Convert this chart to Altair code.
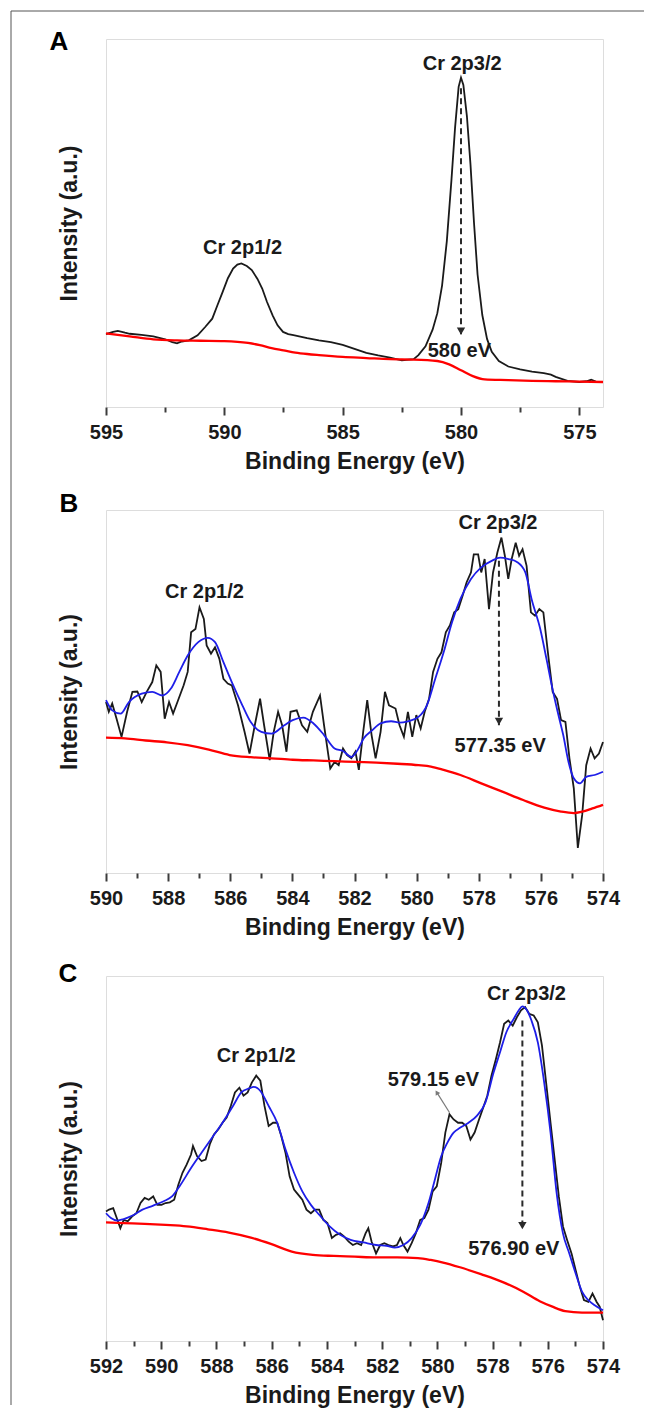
import altair as alt
import pandas as pd

FONT = "Liberation Sans"
INK = "#1a1a1a"
FRAME = "#3c3c3c"
RED = "#ff0000"
BLUE = "#1e1ee8"

# ---------------- Panel A ----------------
a_black_ev = [595.0, 594.7, 594.5, 594.2, 594.0, 593.5, 593.0, 592.5, 592.2, 592.0, 591.8, 591.5,
              591.13, 590.8, 590.51, 590.3, 590.07, 589.85, 589.63, 589.45, 589.28, 589.05, 588.84,
              588.6, 588.4, 588.2, 587.96, 587.75, 587.52, 587.3, 587.08, 586.5, 586.0, 585.5, 585.0,
              584.5, 584.0, 583.5, 583.0, 582.5, 582.0, 581.8, 581.5, 581.2, 581.0, 580.8, 580.6,
              580.4, 580.25, 580.1, 580.0, 579.9, 579.75, 579.6, 579.45, 579.3, 579.1, 578.9, 578.7,
              578.4, 578.0, 577.5, 577.0, 576.5, 576.2, 576.0, 575.5, 575.0, 574.7, 574.5, 574.3, 574.0]
a_black_int = [19.8, 20.4, 20.7, 20.2, 19.9, 19.6, 19.2, 18.4, 17.6, 17.3, 17.8, 18.1,
               19.5, 21.8, 24.0, 27.5, 31.3, 35.0, 37.6, 38.7, 39.0, 38.3, 37.2,
               34.8, 32.2, 28.6, 24.9, 22.2, 20.4, 19.8, 19.5, 18.7, 18.1, 17.6, 16.9,
               15.8, 14.7, 14.0, 13.4, 12.7, 13.0, 14.1, 16.5, 21.0, 25.5, 33.0, 45.0,
               62.0, 76.0, 87.0, 89.5, 87.5, 79.0, 66.0, 50.0, 36.0, 25.0, 18.5, 15.0,
               12.5, 11.0, 10.2, 9.6, 9.2, 8.8, 8.2, 7.1, 6.8, 7.0, 7.4, 6.9, 6.8]
a_red_ev = [595.0, 594.0, 593.0, 592.0, 591.0, 590.0, 589.0, 588.5, 588.0, 587.5, 587.0, 586.5, 586.0,
            585.0, 584.0, 583.0, 582.0, 581.0, 580.5, 580.0, 579.5, 579.0, 578.0, 577.0, 576.0, 575.0, 574.0]
a_red_int = [20.0, 19.2, 18.4, 18.1, 18.0, 17.9, 17.4, 16.8, 16.0, 15.4, 14.8, 14.4, 14.1,
             13.6, 13.3, 13.0, 12.9, 12.5, 11.6, 10.0, 8.4, 7.5, 7.3, 7.1, 7.0, 6.9, 6.8]
a_ticks = [595, 592.5, 590, 587.5, 585, 582.5, 580, 577.5, 575]
a_text = ["Cr 2p3/2", "Cr 2p1/2", "580 eV"]
a_text_ev = [579.95, 589.23, 580.07]
a_text_int = [93.1, 43.1, 15.1]
a_arrow_ev = [580.0]
a_arrow_top = [86.6]
a_arrow_tip = [19.5]

# ---------------- Panel B ----------------
b_black_ev = [590.00, 589.91, 589.80, 589.66, 589.50, 589.32, 589.15, 588.99, 588.85, 588.69, 588.51,
              588.38, 588.24, 588.11, 587.97, 587.84, 587.70, 587.50, 587.37, 587.26, 587.12, 586.99,
              586.85, 586.76, 586.62, 586.49, 586.35, 586.22, 586.08, 585.95, 585.75, 585.54, 585.38,
              585.21, 585.04, 584.91, 584.73, 584.60, 584.46, 584.33, 584.19, 584.06, 583.86, 583.69,
              583.52, 583.34, 583.11, 582.98, 582.78, 582.64, 582.51, 582.37, 582.24, 582.10, 581.97,
              581.86, 581.72, 581.59, 581.45, 581.32, 581.16, 581.02, 580.89, 580.68, 580.55, 580.41,
              580.28, 580.14, 580.01, 579.87, 579.74, 579.60, 579.47, 579.33, 579.20, 579.06, 578.93,
              578.79, 578.66, 578.52, 578.39, 578.25, 578.16, 578.02, 577.92, 577.81, 577.67, 577.54,
              577.40, 577.27, 577.16, 577.05, 576.94, 576.81, 576.70, 576.59, 576.46, 576.32, 576.19,
              576.05, 575.92, 575.75, 575.62, 575.48, 575.35, 575.21, 575.08, 574.94, 574.81, 574.67,
              574.54, 574.40, 574.27, 574.13, 574.00]
b_black_int = [47.1, 44.4, 46.7, 42.5, 37.5, 44.4, 49.9, 50.0, 47.1, 49.9, 52.6,
               57.2, 55.4, 42.5, 47.1, 43.9, 47.1, 51.7, 55.4, 66.3, 67.2, 73.2,
               70.0, 62.7, 60.4, 62.2, 59.0, 53.5, 52.2, 51.7, 46.2, 38.9, 32.9,
               40.7, 48.0, 40.7, 31.1, 38.9, 44.4, 40.7, 33.4, 44.4, 44.8, 40.7,
               38.9, 44.4, 48.9, 40.7, 28.8, 30.6, 29.7, 34.3, 32.5, 31.6, 33.4,
               28.4, 38.9, 47.6, 38.0, 31.6, 38.9, 49.9, 46.2, 45.3, 40.7, 37.5,
               44.4, 37.5, 43.5, 39.8, 44.4, 48.0, 55.4, 59.0, 60.8, 66.3, 68.2,
               71.8, 72.7, 76.4, 80.1, 82.8, 87.8, 87.8, 82.8, 86.5, 72.7, 82.8,
               88.3, 92.4, 87.4, 81.0, 86.5, 91.0, 87.4, 89.2, 84.6, 71.8, 70.9,
               72.7, 71.8, 59.0, 49.9, 48.0, 42.1, 41.6, 31.6, 23.3, 6.9, 16.0,
               29.7, 34.3, 31.6, 32.9, 36.1]
b_blue_ev = [590.00, 589.80, 589.53, 589.26, 588.85, 588.51, 588.18, 587.91, 587.64, 587.37, 587.03,
             586.72, 586.49, 586.22, 585.95, 585.61, 585.34, 585.00, 584.67, 584.26, 583.99, 583.65,
             583.32, 582.98, 582.64, 582.37, 582.10, 581.90, 581.70, 581.43, 581.16, 580.82, 580.55,
             580.28, 579.94, 579.67, 579.40, 579.13, 578.86, 578.59, 578.25, 577.92, 577.58, 577.31,
             577.04, 576.77, 576.50, 576.30, 576.02, 575.82, 575.65, 575.46, 575.28, 575.11, 574.94,
             574.74, 574.54, 574.27, 574.00]
b_blue_int = [47.6, 44.8, 43.9, 47.1, 49.4, 49.9, 48.9, 50.8, 55.4, 59.9, 63.6,
              64.8, 63.6, 58.1, 52.6, 46.2, 41.6, 38.9, 38.4, 40.7, 42.1, 42.8,
              41.2, 38.0, 34.3, 33.6, 32.0, 33.9, 37.1, 39.3, 41.2, 41.8, 41.4,
              41.8, 43.0, 46.2, 53.5, 60.8, 69.1, 75.5, 81.0, 84.2, 86.0, 86.9,
              86.5, 85.7, 82.8, 75.5, 67.2, 59.0, 51.7, 44.4, 38.0, 30.6, 26.1,
              24.7, 26.5, 27.0, 27.9]
b_red_ev = [590.00, 589.39, 588.72, 588.04, 587.37, 586.69, 586.02, 585.34, 584.67, 583.99, 583.32,
            582.64, 581.97, 581.29, 580.62, 579.94, 579.54, 579.13, 578.59, 577.92, 577.24, 576.57,
            575.89, 575.35, 574.94, 574.67, 574.34, 574.00]
b_red_int = [37.3, 37.1, 36.5, 36.0, 35.2, 34.0, 32.5, 31.9, 31.6, 31.2, 31.0,
             30.8, 30.6, 30.4, 30.1, 29.7, 29.3, 28.4, 27.0, 24.7, 22.4, 20.1,
             18.0, 16.9, 16.5, 16.9, 17.8, 18.8]
b_ticks = list(range(590, 573, -1))
b_text = ["Cr 2p3/2", "Cr 2p1/2", "577.35 eV"]
b_text_ev = [577.38, 586.83, 577.31]
b_text_int = [96.5, 77.3, 34.9]
b_arrow_ev = [577.35]
b_arrow_top = [86.0]
b_arrow_tip = [40.7]

# ---------------- Panel C ----------------
c_black_ev = [592.00, 591.89, 591.74, 591.63, 591.48, 591.36, 591.21, 591.06, 590.90, 590.75, 590.60,
              590.45, 590.29, 590.14, 589.99, 589.84, 589.69, 589.53, 589.38, 589.23, 589.08, 588.92,
              588.85, 588.70, 588.54, 588.39, 588.24, 588.09, 587.93, 587.78, 587.63, 587.48, 587.33,
              587.17, 587.02, 586.87, 586.72, 586.56, 586.41, 586.26, 586.11, 585.95, 585.80, 585.65,
              585.50, 585.35, 585.19, 585.04, 584.89, 584.74, 584.58, 584.43, 584.28, 584.13, 583.98,
              583.82, 583.67, 583.52, 583.37, 583.21, 583.06, 582.91, 582.76, 582.60, 582.50, 582.38,
              582.22, 582.07, 581.92, 581.77, 581.61, 581.46, 581.34, 581.23, 581.08, 580.93, 580.78,
              580.62, 580.47, 580.32, 580.17, 580.02, 579.86, 579.71, 579.56, 579.41, 579.25, 579.10,
              578.95, 578.80, 578.65, 578.49, 578.34, 578.19, 578.04, 577.88, 577.73, 577.58, 577.43,
              577.27, 577.12, 576.97, 576.82, 576.67, 576.51, 576.36, 576.21, 576.06, 575.90, 575.75,
              575.60, 575.45, 575.30, 575.14, 574.99, 574.84, 574.69, 574.53, 574.38, 574.23, 574.12,
              574.00]
c_black_int = [35.5, 36.0, 36.4, 34.1, 30.9, 33.2, 32.8, 34.1, 35.0, 37.8, 39.2,
               38.7, 39.6, 37.3, 37.3, 37.8, 38.0, 38.7, 42.8, 46.1, 48.3, 51.1,
               53.4, 50.6, 49.3, 49.7, 53.9, 56.6, 58.0, 59.8, 61.2, 64.4, 68.1,
               69.4, 67.2, 68.1, 70.8, 72.7, 71.3, 64.4, 58.9, 59.8, 59.8, 56.1,
               51.6, 45.1, 41.5, 40.1, 38.7, 36.0, 35.0, 36.0, 36.0, 33.2, 32.3,
               28.2, 29.1, 29.5, 28.6, 27.2, 26.3, 26.8, 26.3, 29.5, 30.9, 27.2,
               24.0, 26.3, 26.8, 26.3, 25.9, 26.3, 28.2, 26.3, 24.5, 26.8, 29.5,
               33.2, 33.7, 36.0, 41.0, 42.4, 48.8, 57.1, 62.1, 60.7, 59.8, 59.8,
               58.9, 55.2, 57.1, 60.7, 63.9, 67.2, 72.7, 77.2, 81.8, 86.9, 87.8,
               86.4, 88.7, 90.6, 91.5, 89.6, 89.2, 87.3, 80.9, 70.8, 59.8, 49.7,
               39.6, 31.4, 27.7, 24.0, 19.4, 14.9, 11.2, 10.7, 13.0, 10.7, 9.4,
               5.7]
c_blue_ev = [592.00, 591.82, 591.59, 591.36, 591.06, 590.68, 590.29, 589.91, 589.61, 589.30, 588.92,
             588.54, 588.16, 587.78, 587.40, 587.10, 586.82, 586.64, 586.41, 586.11, 585.80, 585.50,
             585.19, 584.89, 584.58, 584.28, 583.90, 583.52, 583.14, 582.68, 582.22, 581.84, 581.54,
             581.23, 580.93, 580.62, 580.32, 580.09, 579.86, 579.64, 579.41, 579.18, 578.87, 578.57,
             578.26, 577.96, 577.73, 577.50, 577.23, 577.05, 576.92, 576.77, 576.59, 576.36, 576.13,
             575.90, 575.68, 575.45, 575.22, 574.99, 574.76, 574.53, 574.30, 574.00]
c_blue_int = [35.0, 33.7, 33.0, 33.4, 34.3, 36.0, 37.1, 38.3, 39.6, 42.8, 47.4,
              51.6, 55.7, 59.8, 64.4, 68.1, 69.2, 69.6, 68.5, 64.4, 59.8, 52.5,
              46.1, 41.0, 37.3, 34.6, 31.4, 29.1, 27.7, 27.0, 26.3, 26.1, 25.6,
              26.3, 28.2, 31.8, 37.8, 44.2, 50.6, 54.3, 57.1, 58.4, 59.8, 61.7,
              65.3, 73.6, 79.1, 84.6, 88.3, 90.6, 91.7, 90.8, 87.8, 81.8, 70.8,
              57.1, 40.6, 29.5, 24.0, 18.5, 13.5, 11.2, 9.8, 8.4]
c_red_ev = [592.00, 591.36, 590.60, 589.84, 589.08, 588.31, 587.55, 586.79, 586.03, 585.27, 584.51,
            583.75, 582.99, 582.22, 581.46, 580.70, 580.24, 579.79, 579.18, 578.42, 577.65, 576.89,
            576.29, 575.83, 575.37, 574.76, 574.00]
c_red_int = [32.5, 32.3, 32.1, 31.8, 31.4, 30.6, 29.7, 28.4, 26.6, 24.5, 23.6,
             23.3, 23.1, 22.9, 22.9, 22.7, 22.2, 21.5, 20.2, 18.3, 16.2, 13.5,
             10.9, 9.4, 8.2, 7.8, 7.8]
c_ticks = list(range(592, 573, -1))
c_text = ["Cr 2p3/2", "Cr 2p1/2", "579.15 eV", "576.90 eV"]
c_text_ev = [576.77, 586.56, 580.14, 577.23]
c_text_int = [95.1, 78.0, 71.5, 25.1]
c_arrow_ev = [576.92]
c_arrow_top = [87.8]
c_arrow_tip = [30.5]
c_pointer_ev = [579.56, 580.02]
c_pointer_int = [62.6, 68.1]


def xenc(domain, ticks, step, field="x"):
    return alt.X(
        f"{field}:Q",
        scale=alt.Scale(domain=domain, nice=False, zero=False),
        axis=alt.Axis(
            values=ticks,
            labelExpr=f"datum.value % {step} === 0 ? format(datum.value, 'd') : ''",
            tickSize={"condition": {"test": f"datum.value % {step} === 0", "value": 8}, "value": 5},
            labelFlush=False, labelOverlap=False, domain=False, grid=False,
            tickColor=FRAME, tickWidth=2,
            labelFont=FONT, labelFontSize=20, labelFontWeight="bold", labelColor=INK,
            labelPadding=7,
            title="Binding Energy (eV)", titleFont=FONT, titleFontSize=23,
            titleFontWeight="bold", titleColor=INK, titlePadding=8,
        ),
    )


def yenc(field="y"):
    return alt.Y(
        f"{field}:Q",
        scale=alt.Scale(domain=[0, 100], nice=False, zero=False),
        axis=alt.Axis(
            labels=False, ticks=False, domain=False, grid=False,
            title="Intensity (a.u.)", titleFont=FONT, titleFontSize=23,
            titleFontWeight="bold", titleColor=INK, titlePadding=25,
        ),
    )


def line_layer(xs, ys, color, width, interp, X, Y):
    df = pd.DataFrame({"x": xs, "y": ys, "i": list(range(len(xs)))})
    return (
        alt.Chart(df)
        .mark_line(color=color, strokeWidth=width, interpolate=interp)
        .encode(x=X, y=Y, order="i:Q")
    )


def panel(letter, letter_xy, domain, ticks, step, height,
          black, red, blue, texts, arrow, pointer=None, border=False):
    X = xenc(domain, ticks, step)
    Y = yenc()
    layers = [line_layer(black[0], black[1], INK, 1.8, "linear", X, Y),
              line_layer(red[0], red[1], RED, 2.3, "monotone", X, Y)]
    if blue is not None:
        layers.append(line_layer(blue[0], blue[1], BLUE, 1.8, "monotone", X, Y))
    adf = pd.DataFrame({"x": arrow[0], "y": arrow[1], "y2": arrow[2]})
    layers.append(
        alt.Chart(adf)
        .mark_rule(color="#2a2a2a", strokeWidth=2, strokeDash=[6, 4])
        .encode(x=X, y=Y, y2="y2:Q")
    )
    layers.append(
        alt.Chart(adf)
        .mark_point(shape="triangle-down", filled=True, color="#2a2a2a", size=70, opacity=1, yOffset=-4)
        .encode(x=X, y=yenc("y2"))
    )
    if pointer is not None:
        pdf = pd.DataFrame({"x": pointer[0], "y": pointer[1], "i": [0, 1]})
        layers.append(
            alt.Chart(pdf).mark_line(color="#7a7a7a", strokeWidth=1.2).encode(x=X, y=Y, order="i:Q")
        )
        layers.append(
            alt.Chart(pdf.iloc[[1]])
            .mark_point(shape="triangle-up", filled=True, color="#7a7a7a", size=28, angle=328, opacity=1)
            .encode(x=X, y=Y)
        )
    tdf = pd.DataFrame({"x": texts[1], "y": texts[2], "t": texts[0]})
    layers.append(
        alt.Chart(tdf)
        .mark_text(font=FONT, fontSize=20, fontWeight="bold", color=INK, align="center", baseline="middle")
        .encode(x=X, y=Y, text="t:N")
    )
    layers.append(
        alt.Chart(pd.DataFrame({"t": [letter]}))
        .mark_text(font=FONT, fontSize=26, fontWeight="bold", color="#000000", align="center", baseline="middle")
        .encode(text="t:N", x=alt.value(letter_xy[0]), y=alt.value(letter_xy[1]))
    )
    if border:
        bdf = pd.DataFrame({"k": [0]})
        layers.append(
            alt.Chart(bdf).mark_rule(color="#555555", strokeWidth=1)
            .encode(x=alt.value(-95), y=alt.value(-28), y2=alt.value(1366))
        )
        layers.append(
            alt.Chart(bdf).mark_rule(color="#555555", strokeWidth=1)
            .encode(x=alt.value(-95), x2=alt.value(538), y=alt.value(-28))
        )
    return alt.layer(*layers).properties(width=497, height=height)


pA = panel("A", (-47, 3), [595, 574], a_ticks, 5, 368,
           (a_black_ev, a_black_int), (a_red_ev, a_red_int), None,
           (a_text, a_text_ev, a_text_int), (a_arrow_ev, a_arrow_top, a_arrow_tip), border=True)
pB = panel("B", (-37, -6), [590, 574], b_ticks, 2, 363,
           (b_black_ev, b_black_int), (b_red_ev, b_red_int), (b_blue_ev, b_blue_int),
           (b_text, b_text_ev, b_text_int), (b_arrow_ev, b_arrow_top, b_arrow_tip))
pC = panel("C", (-38, -2), [592, 574], c_ticks, 2, 365,
           (c_black_ev, c_black_int), (c_red_ev, c_red_int), (c_blue_ev, c_blue_int),
           (c_text, c_text_ev, c_text_int), (c_arrow_ev, c_arrow_top, c_arrow_tip),
           pointer=(c_pointer_ev, c_pointer_int))

chart = (
    alt.vconcat(pA, pB, pC, spacing=103, bounds="flush")
    .properties(padding={"left": 2, "top": 2, "right": 0, "bottom": 0})
    .configure_view(stroke=FRAME, strokeWidth=2)
    .configure(background="white")
)

chart.save("out.html", embed_options={"renderer": "svg", "actions": False})
